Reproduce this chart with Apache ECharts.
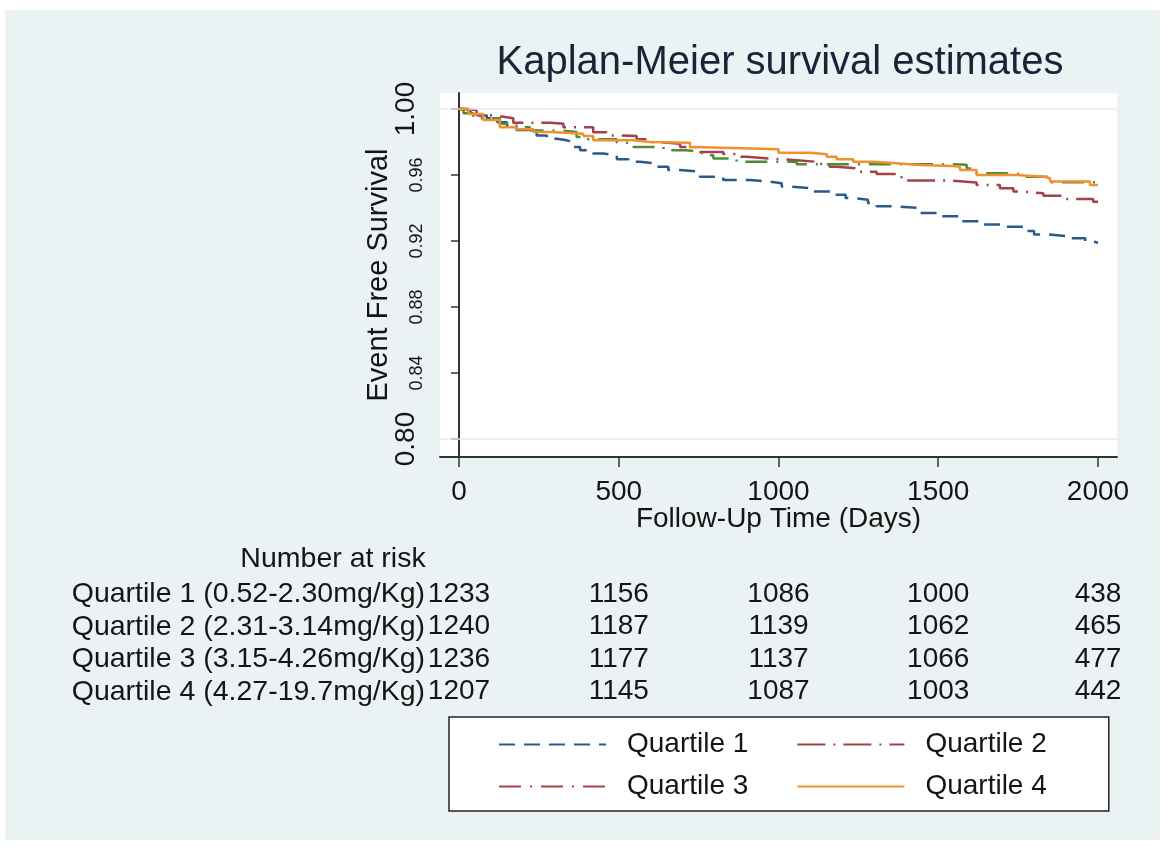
<!DOCTYPE html>
<html><head><meta charset="utf-8">
<script src="https://cdn.jsdelivr.net/npm/echarts@6/dist/echarts.min.js"></script>
<style>
html,body{margin:0;padding:0;background:#fff;width:1165px;height:846px;overflow:hidden}
#bg{position:absolute;left:5px;top:10px;width:1155px;height:830px;background:#eaf2f3}
#chart{position:absolute;left:0;top:0;width:1165px;height:846px}
</style></head><body>
<div id="bg"></div><div id="chart"></div>
<script>
const seriesNames = ['Quartile 1', 'Quartile 2', 'Quartile 3', 'Quartile 4'];
const rowLabels = ['Quartile 1 (0.52-2.30mg/Kg)', 'Quartile 2 (2.31-3.14mg/Kg)', 'Quartile 3 (3.15-4.26mg/Kg)', 'Quartile 4 (4.27-19.7mg/Kg)'];

const q1Days = [0,30,60,87,120,150,180,215,243,275,306,337,360,379,420,451,494,530,566,619,655,692,754,827,911,973,1010,1036,1099,1172,1210,1234,1280,1307,1370,1443,1505,1568,1641,1704,1766,1800,1839,1902,1960,1975,2000];
const q1Surv = [1.000,0.998,0.996,0.9944,0.992,0.990,0.9873,0.986,0.984,0.982,0.981,0.980,0.977,0.975,0.973,0.972,0.9695,0.968,0.967,0.965,0.963,0.962,0.959,0.957,0.956,0.955,0.953,0.952,0.950,0.948,0.946,0.945,0.943,0.941,0.940,0.937,0.935,0.932,0.930,0.9287,0.926,0.924,0.923,0.9216,0.920,0.919,0.9186];

const q2Days = [0,14,55,87,139,170,285,327,420,462,504,556,600,629,692,754,827,870,900,973,1057,1119,1160,1182,1245,1307,1385,1537,1620,1693,1735,1756,1829,1891,1985,2000];
const q2Surv = [1.000,0.9994,0.9964,0.9953,0.9944,0.9917,0.991,0.989,0.9859,0.984,0.9836,0.9816,0.980,0.979,0.977,0.974,0.9727,0.971,0.970,0.969,0.968,0.9667,0.965,0.964,0.962,0.9606,0.9566,0.9555,0.954,0.952,0.950,0.949,0.9475,0.9455,0.9438,0.9438];

const q3Days = [0,14,45,128,180,222,316,368,389,494,546,640,712,760,796,869,1057,1537,1589,1620,1704,1766,1850,2000];
const q3Surv = [1.000,0.9974,0.9944,0.991,0.989,0.987,0.986,0.983,0.9816,0.9796,0.977,0.975,0.974,0.972,0.970,0.968,0.9665,0.9662,0.964,0.961,0.9606,0.959,0.9556,0.9556];

const q4Days = [0,30,76,128,180,233,285,389,420,546,598,723,765,1000,1099,1151,1182,1234,1297,1380,1443,1547,1568,1620,1745,1829,1850,1975,2000];
const q4Surv = [1.000,0.997,0.9933,0.989,0.9877,0.986,0.985,0.9836,0.981,0.980,0.9795,0.9768,0.9756,0.9735,0.9726,0.971,0.9695,0.968,0.967,0.966,0.9655,0.965,0.963,0.960,0.959,0.958,0.956,0.954,0.954];

const riskDays = [0, 500, 1000, 1500, 2000];
const riskQ1 = [1233, 1156, 1086, 1000, 438];
const riskQ2 = [1240, 1187, 1139, 1062, 465];
const riskQ3 = [1236, 1177, 1137, 1066, 477];
const riskQ4 = [1207, 1145, 1087, 1003, 442];

const xTicks = [0, 500, 1000, 1500, 2000];
const yTicksAll = [0.80, 0.84, 0.88, 0.92, 0.96, 1.00];
const yTicksSmall = [0.84, 0.88, 0.92, 0.96];
const yTicksBig = [0.80, 1.00];
const refLines = [1.00, 0.80];

const FONT = '"Liberation Sans", Arial, sans-serif';
const TXT = '#151515';
const AX = '#333';
const colors = ['#2a5a8a', '#a3414b', '#4f8a34', '#f0902e'];
const dashes = [[16, 9], [28, 8, 2, 8], [22, 9, 2, 9], 'solid'];
const legendQ3Color = '#a9444e';

const xMin = -59.5, xMax = 2059.5, yMin = 0.7891, yMax = 1.0097;

const zip = (a, b) => a.map((v, i) => [v, b[i]]);
const curves = [zip(q1Days, q1Surv), zip(q2Days, q2Surv), zip(q3Days, q3Surv), zip(q4Days, q4Surv)];
const riskRows = [riskQ1, riskQ2, riskQ3, riskQ4];
const riskData = [];
riskRows.forEach((row, r) => row.forEach((v, c) => riskData.push([riskDays[c], rowLabels[r], v])));

const lineSeries = curves.map((d, i) => ({
  name: seriesNames[i], type: 'line', step: 'end', data: d,
  xAxisIndex: 0, yAxisIndex: 0,
  symbol: 'none', showSymbol: false, color: colors[i],
  lineStyle: { color: colors[i], width: 2.5, type: dashes[i] },
  z: 3 + i,
  markLine: i === 0 ? {
    silent: true, symbol: ['none', 'none'], label: { show: false },
    lineStyle: { color: '#e3ecee', width: 1.5, type: 'solid' },
    data: refLines.map(v => ({ yAxis: v })), animation: false
  } : undefined
}));

const chart = echarts.init(document.getElementById('chart'), null, { renderer: 'canvas' });
chart.setOption({
  animation: false,
  textStyle: { fontFamily: FONT },
  title: [
    { text: 'Kaplan-Meier survival estimates', left: 780, top: 43, textAlign: 'center', padding: 0,
      textStyle: { fontSize: 40, fontWeight: 'normal', color: '#1c2238', fontFamily: FONT } },
    { text: 'Number at risk', left: 333, top: 545, textAlign: 'center', padding: 0,
      textStyle: { fontSize: 28.5, fontWeight: 'normal', color: TXT, fontFamily: FONT } }
  ],
  grid: [
    { left: 440, right: 48, top: 93, bottom: 389, show: true, backgroundColor: '#ffffff', borderWidth: 0 },
    { left: 440, right: 48, top: 578, height: 130 }
  ],
  xAxis: [
    { type: 'value', gridIndex: 0, min: xMin, max: xMax,
      name: 'Follow-Up Time (Days)', nameLocation: 'middle', nameGap: 48, nameMoveOverlap: false,
      nameTextStyle: { fontSize: 28, color: TXT, fontFamily: FONT },
      axisLine: { show: true, lineStyle: { color: AX, width: 2 } },
      axisTick: { show: true, customValues: xTicks, length: 10, lineStyle: { color: AX, width: 1.5 } },
      axisLabel: { show: true, customValues: xTicks, fontSize: 28, margin: 21, color: TXT, fontFamily: FONT,
        formatter: v => String(Math.round(v)) },
      splitLine: { show: false } },
    { type: 'value', gridIndex: 1, min: xMin, max: xMax, show: false }
  ],
  yAxis: [
    { type: 'value', gridIndex: 0, min: yMin, max: yMax, position: 'left',
      name: 'Event Free Survival', nameLocation: 'middle', nameRotate: 90, nameGap: 47, nameMoveOverlap: false,
      nameTextStyle: { fontSize: 29, color: TXT, fontFamily: FONT },
      axisLine: { show: true, lineStyle: { color: AX, width: 2 } },
      axisTick: { show: true, customValues: yTicksAll, length: 8, lineStyle: { color: AX, width: 1.5 } },
      axisLabel: { show: true, customValues: yTicksSmall, rotate: 90, align: 'center', verticalAlign: 'bottom',
        fontSize: 18, margin: 14, color: TXT, fontFamily: FONT, formatter: v => Number(v).toFixed(2) },
      splitLine: { show: false } },
    { type: 'value', gridIndex: 0, min: yMin, max: yMax, position: 'left',
      axisLine: { show: false }, axisTick: { show: false }, splitLine: { show: false },
      axisLabel: { show: true, customValues: yTicksBig, rotate: 90, align: 'center', verticalAlign: 'bottom',
        fontSize: 28, margin: 20, color: TXT, fontFamily: FONT, formatter: v => Number(v).toFixed(2) } },
    { type: 'category', gridIndex: 1, data: rowLabels, inverse: true,
      axisLine: { show: false }, axisTick: { show: false }, splitLine: { show: false },
      axisLabel: { interval: 0, fontSize: 28.5, margin: 15, color: TXT, fontFamily: FONT } }
  ],
  legend: {
    data: seriesNames.map((n, i) => i === 2 ? { name: n, lineStyle: { color: legendQ3Color } } : { name: n }),
    left: 449, top: 717, width: 586, orient: 'horizontal',
    padding: [13, 27, 10, 49], itemGap: 13, itemWidth: 107, itemHeight: 16,
    backgroundColor: '#ffffff', borderColor: '#222', borderWidth: 1.5, borderRadius: 0,
    selectedMode: false,
    itemStyle: { opacity: 0 },
    textStyle: { fontSize: 28, color: TXT, fontFamily: FONT, padding: [0, 35, 0, 16], lineHeight: 29 }
  },
  series: [
    ...lineSeries,
    { name: 'risk', type: 'scatter', xAxisIndex: 1, yAxisIndex: 2, data: riskData,
      symbolSize: 1, itemStyle: { color: '#000', opacity: 0 }, silent: true,
      label: { show: true, position: 'inside', formatter: p => String(p.value[2]),
        fontSize: 28, color: TXT, opacity: 1, textBorderWidth: 0, textBorderColor: 'transparent', fontFamily: FONT } }
  ]
});
</script>
</body></html>
